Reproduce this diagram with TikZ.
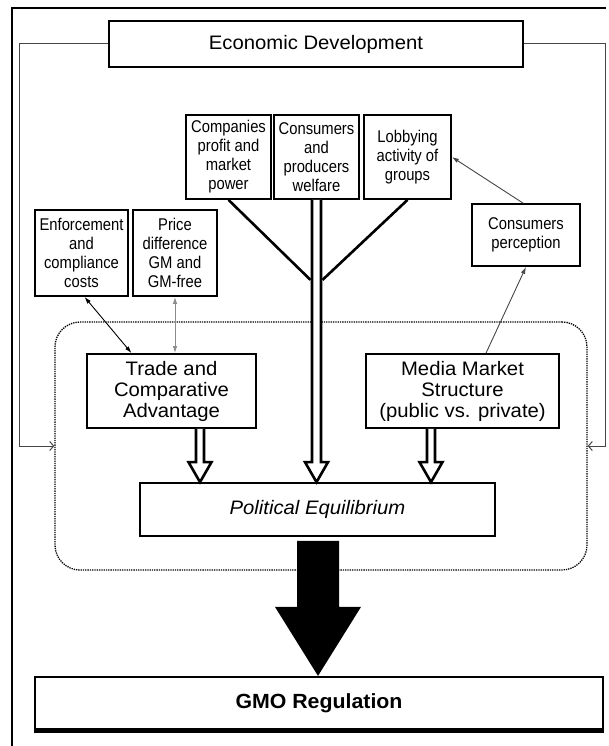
\documentclass[tikz,border=0pt]{standalone}
\usepackage{fontspec}
\setmainfont{Liberation Sans}[FakeStretch=1.04]
\newfontfamily\narrowsf{Liberation Sans}[FakeStretch=0.87]
\usetikzlibrary{arrows.meta, calc}
\definecolor{lingray}{RGB}{70,70,70}
\definecolor{lightln}{RGB}{140,140,140}

\tikzset{
  box/.style={draw, line width=1.8pt, fill=white, align=center, inner sep=0pt},
  bigtxt/.style={font=\fontsize{19.5}{21}\selectfont},
  smalltxt/.style={font=\narrowsf\fontsize{17}{19}\selectfont},
  hollow/.style={draw, fill=white, line width=2.6pt, line join=miter},
  stem/.style={line width=2.6pt},
  twoway/.style={line width=0.9pt, {Latex[length=7pt,width=4.5pt]}-{Latex[length=7pt,width=4.5pt]}},
  oneway/.style={line width=0.9pt, -{Latex[length=7pt,width=4.5pt]}},
  feed/.style={line width=1pt, lingray, -{Straight Barb[length=4pt,width=9pt]}},
}

\begin{document}
\begin{tikzpicture}[x=1pt, y=-1pt]
    \useasboundingbox (0,0) rectangle (609,746);

    % Outer frame
    \draw[line width=2pt] (12,746) -- (12,8) -- (606,8);

    % Economic development and feedback loops
    \node[box, bigtxt, minimum width=414pt, minimum height=46pt] (ed) at (316,44) {Economic Development};
    \node[draw, densely dotted, line width=1.3pt, rounded corners=25pt,
          minimum width=532pt, minimum height=248pt] (eq) at (321,446) {};
    \coordinate (fbL) at (19.5,446);
    \coordinate (fbR) at (605,446);
    \draw[feed] (ed.west) -| (fbL) -- (eq.west);
    \draw[feed] (ed.east) -| (fbR) -- (eq.east);

    % Top factors
    \node[box, smalltxt, minimum width=85pt, minimum height=84pt] (comp) at (228.5,157) {Companies\\profit and\\market\\power};
    \node[box, smalltxt, minimum width=85pt, minimum height=84pt] (cons) at (316.5,157) {Consumers\\and\\producers\\welfare};
    \node[box, smalltxt, minimum width=87pt, minimum height=84pt] (lobby) at (407.5,157) {Lobbying\\activity of\\groups};

    % Side factors
    \node[box, smalltxt, minimum width=93pt, minimum height=86pt] (enf) at (81.5,253) {Enforcement\\and\\compliance\\costs};
    \node[box, smalltxt, minimum width=84pt, minimum height=86pt] (price) at (175,253) {Price\\difference\\GM and\\GM-free};
    \node[box, smalltxt, minimum width=108pt, minimum height=62pt] (perc) at (526,235) {Consumers\\perception};

    % Inner boxes
    \node[box, bigtxt, minimum width=169pt, minimum height=74pt] (trade) at (171.5,391) {Trade and\\Comparative\\Advantage};
    \node[box, bigtxt, minimum width=193pt, minimum height=74pt] (media) at (462.5,391) {Media Market\\Structure\\(public vs. private)};
    \node[box, font={\fontsize{19.5}{21}\selectfont\itshape}, minimum width=355pt, minimum height=53pt] (pe) at (317.5,509.5) {Political Equilibrium};
    \node[box, font={\fontsize{20.5}{22}\selectfont\bfseries}, line width=2.2pt, minimum width=568pt, minimum height=52pt] (gmo) at (319,703) {GMO Regulation};
    \draw[line width=3.5pt] ($(gmo.south west)+(0,1.5)$) -- ($(gmo.south east)+(0,1.5)$);

    % Stems into the welfare pipe
    \coordinate (jn) at ($(cons.south)+(0,80)$);
    \draw[stem] (comp.south) -- ($(jn)+(-6,0)$);
    \draw[stem] (lobby.south) -- ($(jn)+(6,0)$);
    \draw[hollow] ($(cons.south)+(-4.5,0)$) -- ($(cons.south |- pe.north)+(-4.5,-20)$) -- ++(-7,0)
      -- (cons.south |- pe.north) -- ++(11.5,-20) -- ++(-7,0) -- ($(cons.south)+(4.5,0)$);

    % Hollow arrows into the equilibrium
    \coordinate (tA) at ($(trade.south)+(28.5,0)$);
    \coordinate (mA) at ($(media.south)+(-31.5,0)$);
    \draw[hollow] ($(tA)+(-4,0)$) -- ($(tA |- pe.north)+(-4,-20)$) -- ++(-7.5,0)
      -- (tA |- pe.north) -- ++(11.5,-20) -- ++(-7.5,0) -- ($(tA)+(4,0)$);
    \draw[hollow] ($(mA)+(-4,0)$) -- ($(mA |- pe.north)+(-4,-20)$) -- ++(-7.5,0)
      -- (mA |- pe.north) -- ++(11.5,-20) -- ++(-7.5,0) -- ($(mA)+(4,0)$);

    % Thin links
    \draw[twoway] ($(enf.south)+(3,0)$) -- ($(trade.north)+(-40,0)$);
    \draw[twoway, lightln] (price.south) -- (price.south |- trade.north);
    \draw[oneway, lingray] ($(media.north)+(23.5,0)$) -- (perc.south);
    \draw[oneway, lingray] ($(perc.north)+(-3,0)$) -- (lobby.east);

    % Big arrow to regulation
    \coordinate (bA) at ($(pe.south)+(0.5,4)$);
    \fill ($(bA)+(-21,0)$) -- ($(bA |- gmo.north)+(-21,-69)$) -- ++(-22,0) -- (bA |- gmo.north)
      -- ++(43,-69) -- ++(-22,0) -- ($(bA)+(21,0)$) -- cycle;
\end{tikzpicture}
\end{document}
